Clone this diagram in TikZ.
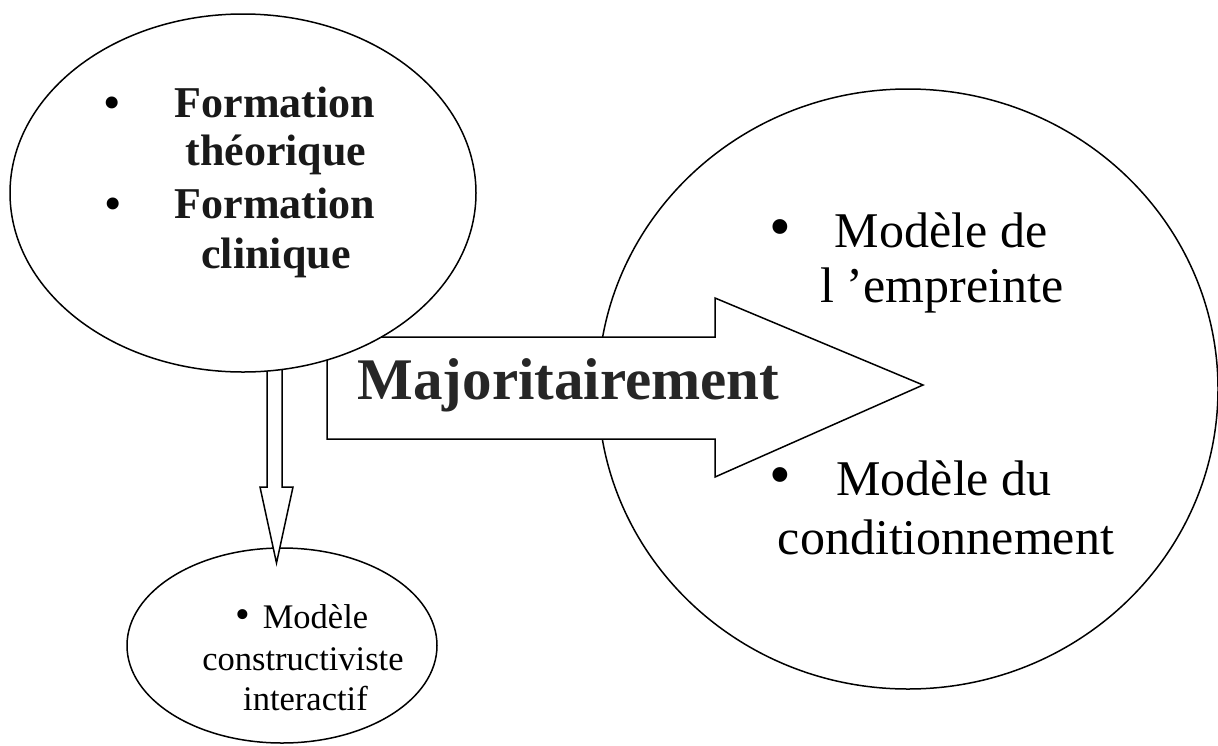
\documentclass[tikz,border=0pt]{standalone}
\usepackage{fontspec}
\setmainfont{Liberation Serif}
\usetikzlibrary{shapes.geometric}
\pgfdeclarelayer{back}
\pgfdeclarelayer{mid}
\pgfsetlayers{back,mid,main}
\begin{document}
\begin{tikzpicture}[x=1pt,y=-1pt,
  blob/.style={draw, ellipse, line width=1.5pt, fill=white, inner sep=0pt},
  blockarrow/.style={draw, line width=1.5pt, fill=white, line join=miter},
  boldtxt/.style={font=\fontsize{44}{50}\selectfont\bfseries, anchor=base, inner sep=0pt, text=black!90},
  bigtxt/.style={font=\fontsize{50}{58}\selectfont, anchor=base, inner sep=0pt},
  smalltxt/.style={font=\fontsize{34.5}{40}\selectfont, anchor=base, inner sep=0pt},
  majtxt/.style={font=\fontsize{59}{66}\selectfont\bfseries, anchor=base, inner sep=0pt, text=black!85},
  bul/.style={anchor=base, inner sep=0pt}]
\useasboundingbox (0,0) rectangle (1218,745);

\begin{pgfonlayer}{back}
  \node[blob, minimum width=620pt, minimum height=600pt] (models) at (908,389) {};
  \node[blob, minimum width=310pt, minimum height=195pt] (construct) at (282,645.5) {};
\end{pgfonlayer}

\begin{pgfonlayer}{mid}
  \coordinate (tipR) at (923,385);
  \draw[blockarrow] (327,337) -- (327,439) -- (715,439) -- (715,477) -- (tipR)
        -- (715,298) -- (715,337) -- cycle;
  \coordinate (tipD) at (276.5,563);
  \draw[blockarrow] (267,340) -- (267,487) -- (260,487) -- (tipD)
        -- (293,487) -- (282,487) -- (282,340);
\end{pgfonlayer}

\node[blob, minimum width=466pt, minimum height=358pt] (formation) at (243,193) {};

% texts of the top ellipse
\node[bul, font=\fontsize{44}{50}\selectfont\bfseries] (b1) at (112.5,117) {•};
\node[boldtxt] (f1) at (275,117) {Formation};
\node[boldtxt] (f2) at (276,165) {théorique};
\node[bul, font=\fontsize{44}{50}\selectfont\bfseries] (b2) at (113,218) {•};
\node[boldtxt] (f3) at (275,218) {Formation};
\node[boldtxt] (f4) at (276,268) {clinique};

% arrow label
\node[majtxt] (maj) at (568.5,399) {Majoritairement};

% texts of the right circle
\node[bul, font=\fontsize{62}{70}\selectfont] (b3) at (780,247) {•};
\node[bigtxt] (m1) at (941,247) {Modèle de};
\node[bigtxt] (m2) at (942,302) {l ’empreinte};
\node[bul, font=\fontsize{62}{70}\selectfont] (b4) at (780,495) {•};
\node[bigtxt] (m3) at (944,495) {Modèle du};
\node[bigtxt] (m4) at (946,554) {conditionnement};

% texts of the small ellipse
\node[bul, font=\fontsize{42}{48}\selectfont] (b5) at (243,628) {•};
\node[smalltxt] (s1) at (315.5,628) {Modèle};
\node[smalltxt] (s2) at (303,670) {constructiviste};
\node[smalltxt] (s3) at (305.5,710) {interactif};
\end{tikzpicture}
\end{document}
